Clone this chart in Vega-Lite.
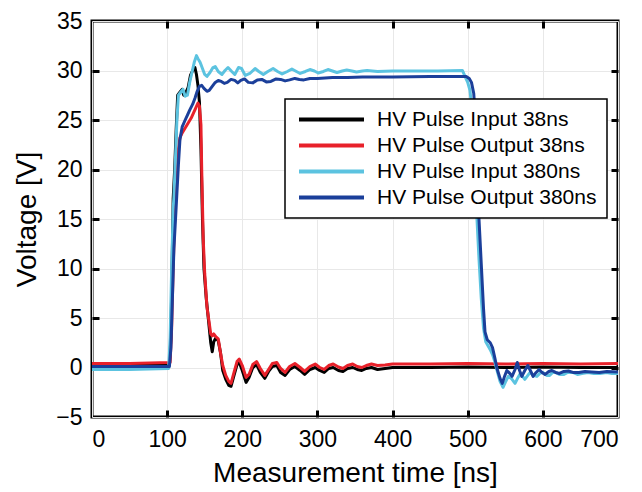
{
  "$schema": "https://vega.github.io/schema/vega-lite/v6.json",
  "width": 526,
  "height": 396,
  "autosize": "none",
  "padding": {"left": 92, "top": 21, "right": 24, "bottom": 75},
  "background": "white",
  "config": {
    "font": "Liberation Sans",
    "view": {"stroke": "black", "strokeWidth": 3},
    "axis": {
      "domain": false,
      "gridColor": "#e8e8e8",
      "gridWidth": 1,
      "tickColor": "black",
      "tickWidth": 3,
      "labelFont": "Liberation Sans",
      "labelFontSize": 23,
      "labelColor": "black",
      "titleFont": "Liberation Sans",
      "titleFontSize": 28,
      "titleFontWeight": "normal",
      "titleColor": "black"
    },
    "legend": {
      "orient": "none",
      "legendX": 193,
      "legendY": 78,
      "fillColor": "white",
      "strokeColor": "black",
      "strokeWidth": 1.5,
      "padding": 10,
      "rowPadding": 4,
      "labelFont": "Liberation Sans",
      "labelFontSize": 21,
      "labelColor": "black",
      "labelLimit": 400,
      "symbolType": "M-1,0H9",
      "symbolSize": 169,
      "symbolStrokeWidth": 4,
      "labelOffset": 61
    }
  },
  "data": {"values": [
    {"s":"HV Pulse Input 38ns","t":0,"v":0.3},{"s":"HV Pulse Input 38ns","t":50,"v":0.3},{"s":"HV Pulse Input 38ns","t":103,"v":0.3},{"s":"HV Pulse Input 38ns","t":105,"v":3},{"s":"HV Pulse Input 38ns","t":107,"v":12},{"s":"HV Pulse Input 38ns","t":108,"v":17},{"s":"HV Pulse Input 38ns","t":110,"v":20},{"s":"HV Pulse Input 38ns","t":112,"v":24},{"s":"HV Pulse Input 38ns","t":114,"v":27.5},{"s":"HV Pulse Input 38ns","t":117,"v":27.8},{"s":"HV Pulse Input 38ns","t":120,"v":28.1},{"s":"HV Pulse Input 38ns","t":122,"v":27.5},{"s":"HV Pulse Input 38ns","t":125,"v":27.8},{"s":"HV Pulse Input 38ns","t":128,"v":28.3},{"s":"HV Pulse Input 38ns","t":131,"v":29.5},{"s":"HV Pulse Input 38ns","t":134,"v":30},{"s":"HV Pulse Input 38ns","t":137,"v":30.3},{"s":"HV Pulse Input 38ns","t":139,"v":29.6},{"s":"HV Pulse Input 38ns","t":141,"v":28.5},{"s":"HV Pulse Input 38ns","t":143,"v":26.8},{"s":"HV Pulse Input 38ns","t":145,"v":22},{"s":"HV Pulse Input 38ns","t":147,"v":15},{"s":"HV Pulse Input 38ns","t":149,"v":10},{"s":"HV Pulse Input 38ns","t":152,"v":7},{"s":"HV Pulse Input 38ns","t":155,"v":4.8},{"s":"HV Pulse Input 38ns","t":158,"v":2.5},{"s":"HV Pulse Input 38ns","t":160,"v":1.6},{"s":"HV Pulse Input 38ns","t":162,"v":2.6},{"s":"HV Pulse Input 38ns","t":165,"v":3},{"s":"HV Pulse Input 38ns","t":168,"v":2.7},{"s":"HV Pulse Input 38ns","t":171,"v":1.5},{"s":"HV Pulse Input 38ns","t":174,"v":-0.3},{"s":"HV Pulse Input 38ns","t":178,"v":-1.2},{"s":"HV Pulse Input 38ns","t":182,"v":-1.8},{"s":"HV Pulse Input 38ns","t":185,"v":-1.9},{"s":"HV Pulse Input 38ns","t":189,"v":-0.8},{"s":"HV Pulse Input 38ns","t":193,"v":0.3},{"s":"HV Pulse Input 38ns","t":196,"v":0.5},{"s":"HV Pulse Input 38ns","t":200,"v":-0.3},{"s":"HV Pulse Input 38ns","t":205,"v":-1.5},{"s":"HV Pulse Input 38ns","t":209,"v":-1},{"s":"HV Pulse Input 38ns","t":214,"v":0},{"s":"HV Pulse Input 38ns","t":219,"v":0.3},{"s":"HV Pulse Input 38ns","t":224,"v":-0.5},{"s":"HV Pulse Input 38ns","t":230,"v":-1.1},{"s":"HV Pulse Input 38ns","t":235,"v":-0.4},{"s":"HV Pulse Input 38ns","t":240,"v":0.1},{"s":"HV Pulse Input 38ns","t":246,"v":0.2},{"s":"HV Pulse Input 38ns","t":251,"v":-0.5},{"s":"HV Pulse Input 38ns","t":257,"v":-0.8},{"s":"HV Pulse Input 38ns","t":263,"v":-0.2},{"s":"HV Pulse Input 38ns","t":270,"v":0.1},{"s":"HV Pulse Input 38ns","t":277,"v":-0.3},{"s":"HV Pulse Input 38ns","t":283,"v":-0.7},{"s":"HV Pulse Input 38ns","t":290,"v":-0.2},{"s":"HV Pulse Input 38ns","t":297,"v":0},{"s":"HV Pulse Input 38ns","t":303,"v":-0.3},{"s":"HV Pulse Input 38ns","t":309,"v":-0.5},{"s":"HV Pulse Input 38ns","t":315,"v":-0.1},{"s":"HV Pulse Input 38ns","t":321,"v":0},{"s":"HV Pulse Input 38ns","t":328,"v":-0.3},{"s":"HV Pulse Input 38ns","t":334,"v":-0.4},{"s":"HV Pulse Input 38ns","t":340,"v":-0.1},{"s":"HV Pulse Input 38ns","t":347,"v":0},{"s":"HV Pulse Input 38ns","t":353,"v":-0.2},{"s":"HV Pulse Input 38ns","t":359,"v":-0.3},{"s":"HV Pulse Input 38ns","t":365,"v":-0.1},{"s":"HV Pulse Input 38ns","t":372,"v":0},{"s":"HV Pulse Input 38ns","t":380,"v":-0.2},{"s":"HV Pulse Input 38ns","t":390,"v":-0.1},{"s":"HV Pulse Input 38ns","t":400,"v":0},{"s":"HV Pulse Input 38ns","t":450,"v":0},{"s":"HV Pulse Input 38ns","t":500,"v":0.05},{"s":"HV Pulse Input 38ns","t":550,"v":0},{"s":"HV Pulse Input 38ns","t":600,"v":0.05},{"s":"HV Pulse Input 38ns","t":650,"v":0},{"s":"HV Pulse Input 38ns","t":700,"v":0},
    {"s":"HV Pulse Output 38ns","t":0,"v":0.4},{"s":"HV Pulse Output 38ns","t":50,"v":0.4},{"s":"HV Pulse Output 38ns","t":104,"v":0.5},{"s":"HV Pulse Output 38ns","t":106,"v":4},{"s":"HV Pulse Output 38ns","t":108,"v":10},{"s":"HV Pulse Output 38ns","t":110,"v":15},{"s":"HV Pulse Output 38ns","t":112,"v":19},{"s":"HV Pulse Output 38ns","t":114,"v":21.5},{"s":"HV Pulse Output 38ns","t":117,"v":23.2},{"s":"HV Pulse Output 38ns","t":120,"v":23.7},{"s":"HV Pulse Output 38ns","t":124,"v":24.2},{"s":"HV Pulse Output 38ns","t":128,"v":24.7},{"s":"HV Pulse Output 38ns","t":132,"v":25.2},{"s":"HV Pulse Output 38ns","t":135,"v":25.7},{"s":"HV Pulse Output 38ns","t":138,"v":26.2},{"s":"HV Pulse Output 38ns","t":141,"v":26.7},{"s":"HV Pulse Output 38ns","t":143,"v":26.4},{"s":"HV Pulse Output 38ns","t":145,"v":24.5},{"s":"HV Pulse Output 38ns","t":146,"v":20},{"s":"HV Pulse Output 38ns","t":148,"v":13},{"s":"HV Pulse Output 38ns","t":150,"v":9.5},{"s":"HV Pulse Output 38ns","t":153,"v":6.1},{"s":"HV Pulse Output 38ns","t":156,"v":4.5},{"s":"HV Pulse Output 38ns","t":158,"v":3.4},{"s":"HV Pulse Output 38ns","t":160,"v":3.2},{"s":"HV Pulse Output 38ns","t":162,"v":3.4},{"s":"HV Pulse Output 38ns","t":165,"v":3.1},{"s":"HV Pulse Output 38ns","t":168,"v":2.9},{"s":"HV Pulse Output 38ns","t":171,"v":1.5},{"s":"HV Pulse Output 38ns","t":174,"v":0.2},{"s":"HV Pulse Output 38ns","t":178,"v":-0.8},{"s":"HV Pulse Output 38ns","t":182,"v":-1.4},{"s":"HV Pulse Output 38ns","t":185,"v":-1.6},{"s":"HV Pulse Output 38ns","t":189,"v":-0.5},{"s":"HV Pulse Output 38ns","t":193,"v":0.6},{"s":"HV Pulse Output 38ns","t":196,"v":0.85},{"s":"HV Pulse Output 38ns","t":200,"v":0.2},{"s":"HV Pulse Output 38ns","t":205,"v":-1},{"s":"HV Pulse Output 38ns","t":209,"v":-0.7},{"s":"HV Pulse Output 38ns","t":214,"v":0.3},{"s":"HV Pulse Output 38ns","t":219,"v":0.6},{"s":"HV Pulse Output 38ns","t":224,"v":-0.1},{"s":"HV Pulse Output 38ns","t":230,"v":-0.8},{"s":"HV Pulse Output 38ns","t":235,"v":-0.2},{"s":"HV Pulse Output 38ns","t":240,"v":0.4},{"s":"HV Pulse Output 38ns","t":246,"v":0.5},{"s":"HV Pulse Output 38ns","t":251,"v":-0.1},{"s":"HV Pulse Output 38ns","t":257,"v":-0.5},{"s":"HV Pulse Output 38ns","t":263,"v":0.1},{"s":"HV Pulse Output 38ns","t":270,"v":0.4},{"s":"HV Pulse Output 38ns","t":277,"v":0},{"s":"HV Pulse Output 38ns","t":283,"v":-0.4},{"s":"HV Pulse Output 38ns","t":290,"v":0.1},{"s":"HV Pulse Output 38ns","t":297,"v":0.35},{"s":"HV Pulse Output 38ns","t":303,"v":0},{"s":"HV Pulse Output 38ns","t":309,"v":-0.2},{"s":"HV Pulse Output 38ns","t":315,"v":0.2},{"s":"HV Pulse Output 38ns","t":321,"v":0.35},{"s":"HV Pulse Output 38ns","t":328,"v":0.05},{"s":"HV Pulse Output 38ns","t":334,"v":-0.1},{"s":"HV Pulse Output 38ns","t":340,"v":0.2},{"s":"HV Pulse Output 38ns","t":347,"v":0.35},{"s":"HV Pulse Output 38ns","t":353,"v":0.1},{"s":"HV Pulse Output 38ns","t":359,"v":0},{"s":"HV Pulse Output 38ns","t":365,"v":0.2},{"s":"HV Pulse Output 38ns","t":372,"v":0.35},{"s":"HV Pulse Output 38ns","t":380,"v":0.2},{"s":"HV Pulse Output 38ns","t":390,"v":0.25},{"s":"HV Pulse Output 38ns","t":400,"v":0.35},{"s":"HV Pulse Output 38ns","t":450,"v":0.35},{"s":"HV Pulse Output 38ns","t":500,"v":0.4},{"s":"HV Pulse Output 38ns","t":550,"v":0.35},{"s":"HV Pulse Output 38ns","t":600,"v":0.4},{"s":"HV Pulse Output 38ns","t":650,"v":0.35},{"s":"HV Pulse Output 38ns","t":700,"v":0.4},
    {"s":"HV Pulse Input 380ns","t":0,"v":-0.2},{"s":"HV Pulse Input 380ns","t":50,"v":-0.2},{"s":"HV Pulse Input 380ns","t":102,"v":-0.1},{"s":"HV Pulse Input 380ns","t":104,"v":3},{"s":"HV Pulse Input 380ns","t":106,"v":10},{"s":"HV Pulse Input 380ns","t":108,"v":16},{"s":"HV Pulse Input 380ns","t":109,"v":17.2},{"s":"HV Pulse Input 380ns","t":111,"v":21},{"s":"HV Pulse Input 380ns","t":113,"v":25},{"s":"HV Pulse Input 380ns","t":115,"v":27.5},{"s":"HV Pulse Input 380ns","t":118,"v":27.8},{"s":"HV Pulse Input 380ns","t":121,"v":28.1},{"s":"HV Pulse Input 380ns","t":124,"v":27.4},{"s":"HV Pulse Input 380ns","t":127,"v":27.5},{"s":"HV Pulse Input 380ns","t":130,"v":28.8},{"s":"HV Pulse Input 380ns","t":133,"v":29.8},{"s":"HV Pulse Input 380ns","t":136,"v":30.8},{"s":"HV Pulse Input 380ns","t":139,"v":31.5},{"s":"HV Pulse Input 380ns","t":141,"v":31.2},{"s":"HV Pulse Input 380ns","t":144,"v":30.8},{"s":"HV Pulse Input 380ns","t":147,"v":30.2},{"s":"HV Pulse Input 380ns","t":150,"v":29.6},{"s":"HV Pulse Input 380ns","t":153,"v":29.4},{"s":"HV Pulse Input 380ns","t":157,"v":29.8},{"s":"HV Pulse Input 380ns","t":161,"v":30.3},{"s":"HV Pulse Input 380ns","t":164,"v":30.4},{"s":"HV Pulse Input 380ns","t":168,"v":29.9},{"s":"HV Pulse Input 380ns","t":173,"v":29.6},{"s":"HV Pulse Input 380ns","t":177,"v":30},{"s":"HV Pulse Input 380ns","t":181,"v":30.3},{"s":"HV Pulse Input 380ns","t":186,"v":29.9},{"s":"HV Pulse Input 380ns","t":190,"v":29.6},{"s":"HV Pulse Input 380ns","t":195,"v":30.3},{"s":"HV Pulse Input 380ns","t":199,"v":30.2},{"s":"HV Pulse Input 380ns","t":204,"v":29.5},{"s":"HV Pulse Input 380ns","t":210,"v":29.7},{"s":"HV Pulse Input 380ns","t":217,"v":30.2},{"s":"HV Pulse Input 380ns","t":222,"v":29.9},{"s":"HV Pulse Input 380ns","t":228,"v":29.6},{"s":"HV Pulse Input 380ns","t":234,"v":29.9},{"s":"HV Pulse Input 380ns","t":241,"v":30.2},{"s":"HV Pulse Input 380ns","t":247,"v":29.9},{"s":"HV Pulse Input 380ns","t":253,"v":29.65},{"s":"HV Pulse Input 380ns","t":260,"v":29.9},{"s":"HV Pulse Input 380ns","t":266,"v":30.15},{"s":"HV Pulse Input 380ns","t":272,"v":29.9},{"s":"HV Pulse Input 380ns","t":277,"v":29.7},{"s":"HV Pulse Input 380ns","t":284,"v":29.9},{"s":"HV Pulse Input 380ns","t":290,"v":30.1},{"s":"HV Pulse Input 380ns","t":296,"v":29.95},{"s":"HV Pulse Input 380ns","t":301,"v":29.75},{"s":"HV Pulse Input 380ns","t":308,"v":29.9},{"s":"HV Pulse Input 380ns","t":314,"v":30.1},{"s":"HV Pulse Input 380ns","t":320,"v":29.95},{"s":"HV Pulse Input 380ns","t":326,"v":29.8},{"s":"HV Pulse Input 380ns","t":333,"v":29.95},{"s":"HV Pulse Input 380ns","t":339,"v":30.05},{"s":"HV Pulse Input 380ns","t":346,"v":29.95},{"s":"HV Pulse Input 380ns","t":352,"v":29.85},{"s":"HV Pulse Input 380ns","t":360,"v":29.95},{"s":"HV Pulse Input 380ns","t":366,"v":30},{"s":"HV Pulse Input 380ns","t":380,"v":29.9},{"s":"HV Pulse Input 380ns","t":400,"v":29.95},{"s":"HV Pulse Input 380ns","t":430,"v":29.95},{"s":"HV Pulse Input 380ns","t":460,"v":29.95},{"s":"HV Pulse Input 380ns","t":493,"v":30},{"s":"HV Pulse Input 380ns","t":497,"v":29.3},{"s":"HV Pulse Input 380ns","t":500,"v":28.8},{"s":"HV Pulse Input 380ns","t":503,"v":28},{"s":"HV Pulse Input 380ns","t":505,"v":26.5},{"s":"HV Pulse Input 380ns","t":507,"v":24},{"s":"HV Pulse Input 380ns","t":509,"v":20},{"s":"HV Pulse Input 380ns","t":512,"v":15.5},{"s":"HV Pulse Input 380ns","t":515,"v":11},{"s":"HV Pulse Input 380ns","t":518,"v":7},{"s":"HV Pulse Input 380ns","t":521,"v":4},{"s":"HV Pulse Input 380ns","t":524,"v":2.6},{"s":"HV Pulse Input 380ns","t":527,"v":2.2},{"s":"HV Pulse Input 380ns","t":530,"v":1.8},{"s":"HV Pulse Input 380ns","t":533,"v":1.3},{"s":"HV Pulse Input 380ns","t":536,"v":0.6},{"s":"HV Pulse Input 380ns","t":539,"v":-0.3},{"s":"HV Pulse Input 380ns","t":543,"v":-1.4},{"s":"HV Pulse Input 380ns","t":547,"v":-2},{"s":"HV Pulse Input 380ns","t":550,"v":-1.5},{"s":"HV Pulse Input 380ns","t":554,"v":-0.9},{"s":"HV Pulse Input 380ns","t":558,"v":-1.1},{"s":"HV Pulse Input 380ns","t":563,"v":-1.6},{"s":"HV Pulse Input 380ns","t":567,"v":-1},{"s":"HV Pulse Input 380ns","t":570,"v":-0.6},{"s":"HV Pulse Input 380ns","t":573,"v":-0.9},{"s":"HV Pulse Input 380ns","t":576,"v":-1.2},{"s":"HV Pulse Input 380ns","t":580,"v":-0.8},{"s":"HV Pulse Input 380ns","t":583,"v":-0.5},{"s":"HV Pulse Input 380ns","t":587,"v":-0.8},{"s":"HV Pulse Input 380ns","t":592,"v":-0.9},{"s":"HV Pulse Input 380ns","t":596,"v":-0.6},{"s":"HV Pulse Input 380ns","t":600,"v":-0.5},{"s":"HV Pulse Input 380ns","t":605,"v":-0.8},{"s":"HV Pulse Input 380ns","t":609,"v":-0.8},{"s":"HV Pulse Input 380ns","t":613,"v":-0.5},{"s":"HV Pulse Input 380ns","t":617,"v":-0.5},{"s":"HV Pulse Input 380ns","t":622,"v":-0.7},{"s":"HV Pulse Input 380ns","t":628,"v":-0.7},{"s":"HV Pulse Input 380ns","t":633,"v":-0.5},{"s":"HV Pulse Input 380ns","t":640,"v":-0.5},{"s":"HV Pulse Input 380ns","t":646,"v":-0.7},{"s":"HV Pulse Input 380ns","t":652,"v":-0.6},{"s":"HV Pulse Input 380ns","t":660,"v":-0.5},{"s":"HV Pulse Input 380ns","t":668,"v":-0.6},{"s":"HV Pulse Input 380ns","t":676,"v":-0.6},{"s":"HV Pulse Input 380ns","t":685,"v":-0.5},{"s":"HV Pulse Input 380ns","t":692,"v":-0.6},{"s":"HV Pulse Input 380ns","t":700,"v":-0.6},
    {"s":"HV Pulse Output 380ns","t":0,"v":0.1},{"s":"HV Pulse Output 380ns","t":50,"v":0.1},{"s":"HV Pulse Output 380ns","t":103,"v":0.1},{"s":"HV Pulse Output 380ns","t":105,"v":2},{"s":"HV Pulse Output 380ns","t":107,"v":7},{"s":"HV Pulse Output 380ns","t":109,"v":12},{"s":"HV Pulse Output 380ns","t":112,"v":16.2},{"s":"HV Pulse Output 380ns","t":115,"v":20.5},{"s":"HV Pulse Output 380ns","t":117,"v":23},{"s":"HV Pulse Output 380ns","t":120,"v":24.3},{"s":"HV Pulse Output 380ns","t":124,"v":25},{"s":"HV Pulse Output 380ns","t":127,"v":25.5},{"s":"HV Pulse Output 380ns","t":130,"v":26},{"s":"HV Pulse Output 380ns","t":134,"v":26.6},{"s":"HV Pulse Output 380ns","t":137,"v":27.2},{"s":"HV Pulse Output 380ns","t":140,"v":27.9},{"s":"HV Pulse Output 380ns","t":143,"v":28.4},{"s":"HV Pulse Output 380ns","t":146,"v":28.5},{"s":"HV Pulse Output 380ns","t":149,"v":28.2},{"s":"HV Pulse Output 380ns","t":153,"v":27.9},{"s":"HV Pulse Output 380ns","t":156,"v":28},{"s":"HV Pulse Output 380ns","t":160,"v":28.4},{"s":"HV Pulse Output 380ns","t":164,"v":28.8},{"s":"HV Pulse Output 380ns","t":168,"v":29},{"s":"HV Pulse Output 380ns","t":172,"v":28.9},{"s":"HV Pulse Output 380ns","t":176,"v":28.7},{"s":"HV Pulse Output 380ns","t":180,"v":28.8},{"s":"HV Pulse Output 380ns","t":185,"v":29.1},{"s":"HV Pulse Output 380ns","t":190,"v":29},{"s":"HV Pulse Output 380ns","t":194,"v":28.75},{"s":"HV Pulse Output 380ns","t":198,"v":29},{"s":"HV Pulse Output 380ns","t":203,"v":29.15},{"s":"HV Pulse Output 380ns","t":208,"v":28.8},{"s":"HV Pulse Output 380ns","t":214,"v":28.75},{"s":"HV Pulse Output 380ns","t":220,"v":29.05},{"s":"HV Pulse Output 380ns","t":226,"v":29.1},{"s":"HV Pulse Output 380ns","t":232,"v":28.85},{"s":"HV Pulse Output 380ns","t":238,"v":28.9},{"s":"HV Pulse Output 380ns","t":245,"v":29.15},{"s":"HV Pulse Output 380ns","t":251,"v":29.1},{"s":"HV Pulse Output 380ns","t":257,"v":28.95},{"s":"HV Pulse Output 380ns","t":263,"v":29.05},{"s":"HV Pulse Output 380ns","t":270,"v":29.2},{"s":"HV Pulse Output 380ns","t":276,"v":29.1},{"s":"HV Pulse Output 380ns","t":282,"v":29.05},{"s":"HV Pulse Output 380ns","t":290,"v":29.2},{"s":"HV Pulse Output 380ns","t":300,"v":29.2},{"s":"HV Pulse Output 380ns","t":310,"v":29.25},{"s":"HV Pulse Output 380ns","t":320,"v":29.3},{"s":"HV Pulse Output 380ns","t":340,"v":29.3},{"s":"HV Pulse Output 380ns","t":360,"v":29.35},{"s":"HV Pulse Output 380ns","t":400,"v":29.35},{"s":"HV Pulse Output 380ns","t":450,"v":29.4},{"s":"HV Pulse Output 380ns","t":498,"v":29.4},{"s":"HV Pulse Output 380ns","t":502,"v":29.2},{"s":"HV Pulse Output 380ns","t":505,"v":28.8},{"s":"HV Pulse Output 380ns","t":508,"v":27.7},{"s":"HV Pulse Output 380ns","t":510,"v":25.5},{"s":"HV Pulse Output 380ns","t":512,"v":21},{"s":"HV Pulse Output 380ns","t":515,"v":15},{"s":"HV Pulse Output 380ns","t":518,"v":10.5},{"s":"HV Pulse Output 380ns","t":521,"v":6},{"s":"HV Pulse Output 380ns","t":523,"v":3.6},{"s":"HV Pulse Output 380ns","t":526,"v":2.8},{"s":"HV Pulse Output 380ns","t":530,"v":2.5},{"s":"HV Pulse Output 380ns","t":533,"v":2},{"s":"HV Pulse Output 380ns","t":536,"v":1},{"s":"HV Pulse Output 380ns","t":539,"v":-0.1},{"s":"HV Pulse Output 380ns","t":543,"v":-1.1},{"s":"HV Pulse Output 380ns","t":546,"v":-1.6},{"s":"HV Pulse Output 380ns","t":549,"v":-0.9},{"s":"HV Pulse Output 380ns","t":552,"v":-0.3},{"s":"HV Pulse Output 380ns","t":556,"v":-0.6},{"s":"HV Pulse Output 380ns","t":559,"v":-0.9},{"s":"HV Pulse Output 380ns","t":563,"v":-0.2},{"s":"HV Pulse Output 380ns","t":566,"v":0.5},{"s":"HV Pulse Output 380ns","t":569,"v":-0.3},{"s":"HV Pulse Output 380ns","t":572,"v":-0.9},{"s":"HV Pulse Output 380ns","t":576,"v":-0.3},{"s":"HV Pulse Output 380ns","t":580,"v":0.2},{"s":"HV Pulse Output 380ns","t":584,"v":-0.4},{"s":"HV Pulse Output 380ns","t":587,"v":-0.9},{"s":"HV Pulse Output 380ns","t":591,"v":-0.5},{"s":"HV Pulse Output 380ns","t":595,"v":-0.2},{"s":"HV Pulse Output 380ns","t":599,"v":-0.5},{"s":"HV Pulse Output 380ns","t":603,"v":-0.7},{"s":"HV Pulse Output 380ns","t":608,"v":-0.4},{"s":"HV Pulse Output 380ns","t":612,"v":-0.3},{"s":"HV Pulse Output 380ns","t":617,"v":-0.5},{"s":"HV Pulse Output 380ns","t":622,"v":-0.6},{"s":"HV Pulse Output 380ns","t":628,"v":-0.4},{"s":"HV Pulse Output 380ns","t":634,"v":-0.35},{"s":"HV Pulse Output 380ns","t":640,"v":-0.5},{"s":"HV Pulse Output 380ns","t":648,"v":-0.5},{"s":"HV Pulse Output 380ns","t":656,"v":-0.4},{"s":"HV Pulse Output 380ns","t":665,"v":-0.45},{"s":"HV Pulse Output 380ns","t":675,"v":-0.5},{"s":"HV Pulse Output 380ns","t":685,"v":-0.4},{"s":"HV Pulse Output 380ns","t":700,"v":-0.45}
  ]},
  "layer": [
    {
      "encoding": {
        "x": {"field": "t", "type": "quantitative", "scale": {"domain": [0, 700], "nice": false},
          "axis": {"orient": "bottom", "title": "Measurement time [ns]", "values": [0,100,200,300,400,500,600,700], "ticks": false, "grid": true, "labelPadding": 11, "titlePadding": 8}},
        "y": {"field": "v", "type": "quantitative", "scale": {"domain": [-5, 35], "nice": false},
          "axis": {"orient": "left", "title": "Voltage [V]", "values": [-5,0,5,10,15,20,25,30,35], "ticks": false, "grid": true, "labelPadding": 10, "titlePadding": 14}},
        "color": {"field": "s", "type": "nominal",
          "scale": {"domain": ["HV Pulse Input 38ns","HV Pulse Output 38ns","HV Pulse Input 380ns","HV Pulse Output 380ns"],
                    "range": ["#000000","#e8212a","#5cc3e0","#1b3f9a"]},
          "legend": {"title": null}}
      },
      "layer": [
        {"transform": [{"filter": "datum.s === 'HV Pulse Input 38ns'"}], "mark": {"type": "line", "strokeWidth": 3, "strokeJoin": "round"}},
        {"transform": [{"filter": "datum.s === 'HV Pulse Output 38ns'"}], "mark": {"type": "line", "strokeWidth": 3, "strokeJoin": "round"}},
        {"transform": [{"filter": "datum.s === 'HV Pulse Input 380ns'"}], "mark": {"type": "line", "strokeWidth": 3, "strokeJoin": "round"}},
        {"transform": [{"filter": "datum.s === 'HV Pulse Output 380ns'"}], "mark": {"type": "line", "strokeWidth": 3, "strokeJoin": "round"}}
      ]
    },
    {"mark": {"type": "line", "opacity": 0},
     "encoding": {
       "x": {"field": "t", "type": "quantitative", "axis": {"orient": "top", "labels": false, "title": null, "grid": false, "tickSize": -7, "values": [100,200,300,400,500,600]}},
       "y": {"field": "v", "type": "quantitative", "axis": {"orient": "right", "labels": false, "title": null, "grid": false, "tickSize": -7, "values": [0,5,10,15,20,25,30]}}
     }},
    {"mark": {"type": "line", "opacity": 0},
     "encoding": {
       "x": {"field": "t", "type": "quantitative", "axis": {"orient": "bottom", "labels": false, "title": null, "grid": false, "tickSize": -7, "values": [100,200,300,400,500,600]}},
       "y": {"field": "v", "type": "quantitative", "axis": {"orient": "left", "labels": false, "title": null, "grid": false, "tickSize": -7, "values": [0,5,10,15,20,25,30]}}
     }}
  ],
  "resolve": {"axis": {"x": "independent", "y": "independent"}}
}
